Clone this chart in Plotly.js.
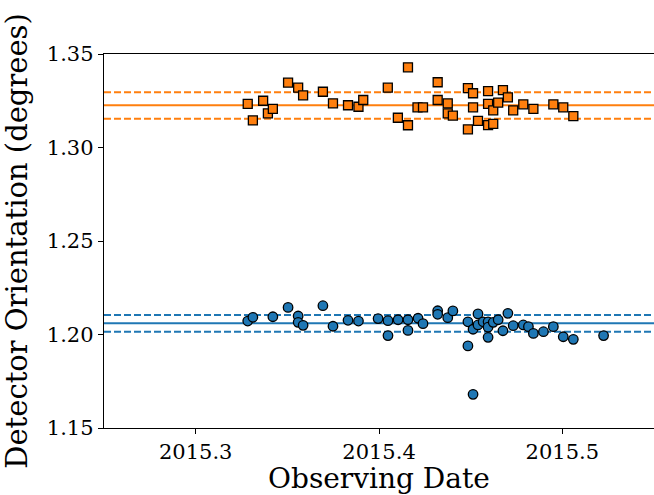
<!DOCTYPE html>
<html>
<head>
<meta charset="utf-8">
<script src="https://cdn.plot.ly/plotly-3.0.1.min.js"></script>
<style>html,body{margin:0;padding:0;background:#fff;}#chart{width:654px;height:495px;}</style>
</head>
<body>
<div id="chart"></div>
<script>
// Orange series (squares)
const orangeDates = [2015.3284, 2015.3312, 2015.3368, 2015.3394, 2015.3421, 2015.3504, 2015.3559, 2015.3586, 2015.3694, 2015.3749, 2015.3831, 2015.3888, 2015.3914, 2015.4048, 2015.4103, 2015.4158, 2015.4158, 2015.4210, 2015.4240, 2015.4320, 2015.4320, 2015.4375, 2015.4375, 2015.4403, 2015.4485, 2015.4513, 2015.4513, 2015.4485, 2015.4540, 2015.4595, 2015.4595, 2015.4595, 2015.4623, 2015.4623, 2015.4650, 2015.4676, 2015.4703, 2015.4732, 2015.4787, 2015.4842, 2015.4951, 2015.5005, 2015.5060];
const orangeValues = [1.3233, 1.3145, 1.3250, 1.3183, 1.3207, 1.3347, 1.3320, 1.3279, 1.3298, 1.3236, 1.3226, 1.3218, 1.3254, 1.3320, 1.3159, 1.3429, 1.3119, 1.3215, 1.3215, 1.3349, 1.3254, 1.3236, 1.3183, 1.3170, 1.3317, 1.3290, 1.3215, 1.3097, 1.3142, 1.3301, 1.3233, 1.3120, 1.3199, 1.3126, 1.3240, 1.3307, 1.3268, 1.3199, 1.3231, 1.3207, 1.3231, 1.3215, 1.3168];
const orangeMean = 1.3226;
const orangeBand = [1.3154, 1.3295];

// Blue series (circles)
const blueDates = [2015.3284, 2015.3312, 2015.3421, 2015.3504, 2015.3559, 2015.3559, 2015.3586, 2015.3694, 2015.3749, 2015.3831, 2015.3888, 2015.3995, 2015.4049, 2015.4049, 2015.4104, 2015.4158, 2015.4158, 2015.4213, 2015.4240, 2015.4320, 2015.4320, 2015.4375, 2015.4403, 2015.4485, 2015.4485, 2015.4513, 2015.4513, 2015.4540, 2015.4540, 2015.4568, 2015.4595, 2015.4595, 2015.4595, 2015.4623, 2015.4650, 2015.4676, 2015.4703, 2015.4732, 2015.4787, 2015.4815, 2015.4842, 2015.4897, 2015.4951, 2015.5005, 2015.5060, 2015.5225];
const blueValues = [1.2072, 1.2092, 1.2095, 1.2145, 1.2099, 1.2065, 1.2049, 1.2154, 1.2044, 1.2076, 1.2072, 1.2085, 1.2074, 1.1994, 1.2079, 1.2079, 1.2022, 1.2087, 1.2058, 1.2127, 1.2108, 1.2090, 1.2126, 1.2068, 1.1939, 1.2028, 1.1680, 1.2110, 1.2051, 1.2068, 1.2068, 1.2039, 1.1985, 1.2065, 1.2079, 1.2020, 1.2113, 1.2047, 1.2051, 1.2042, 1.2006, 1.2015, 1.2042, 1.1988, 1.1974, 1.1994];
const blueMean = 1.2060;
const blueBand = [1.2015, 1.2104];

const xTicks = [2015.3, 2015.4, 2015.5];
const yTicks = [1.15, 1.20, 1.25, 1.30, 1.35];
const xTitle = 'Observing Date';
const yTitle = 'Detector Orientation (degrees)';

const ORANGE = '#ff7f0e', BLUE = '#1f77b4';

function hline(y, color, dash) {
  return {type: 'line', xref: 'paper', x0: 0, x1: 1, yref: 'y', y0: y, y1: y,
          line: {color: color, width: 2, dash: dash}, layer: 'below'};
}

const traces = [
  {x: orangeDates, y: orangeValues, mode: 'markers', type: 'scatter',
   marker: {symbol: 'square', size: 9, color: ORANGE, line: {color: '#000', width: 1.3}}},
  {x: blueDates, y: blueValues, mode: 'markers', type: 'scatter',
   marker: {symbol: 'circle', size: 9.5, color: BLUE, line: {color: '#000', width: 1.3}}}
];

const shapes = [
  hline(orangeMean, ORANGE, 'solid'), hline(orangeBand[0], ORANGE, '7px,3px'), hline(orangeBand[1], ORANGE, '7px,3px'),
  hline(blueMean, BLUE, 'solid'), hline(blueBand[0], BLUE, '7px,3px'), hline(blueBand[1], BLUE, '7px,3px')
];

const font = 'DejaVu Serif, serif';
const layout = {
  width: 654, height: 495,
  margin: {l: 104, r: 0, t: 54, b: 67},
  paper_bgcolor: '#fff', plot_bgcolor: '#fff',
  showlegend: false,
  font: {family: font, color: '#000', size: 21},
  xaxis: {
    range: [2015.25, 2015.55], tickvals: xTicks, ticktext: xTicks.map(v => v.toFixed(1)),
    showgrid: false, zeroline: false, showline: true, linecolor: '#000', linewidth: 1.2,
    mirror: true, ticks: 'outside', ticklen: 5, tickcolor: '#000', tickwidth: 1,
    tickfont: {family: font, size: 21, color: '#000'}
  },
  yaxis: {
    range: [1.15, 1.35], tickvals: yTicks, ticktext: yTicks.map(v => v.toFixed(2)),
    showgrid: false, zeroline: false, showline: true, linecolor: '#000', linewidth: 1.2,
    ticks: 'outside', ticklen: 5, tickcolor: '#000', tickwidth: 1,
    tickfont: {family: font, size: 21, color: '#000'},
    title: {text: yTitle, font: {family: font, size: 29, color: '#000'}, standoff: 10}
  },
  annotations: [
    {text: xTitle, xref: 'paper', yref: 'paper', x: 0.5, y: 0, xanchor: 'center', yanchor: 'top',
     yshift: -32, showarrow: false, font: {family: font, size: 28, color: '#000'}}
  ],
  shapes: shapes
};

Plotly.newPlot('chart', traces, layout, {displayModeBar: false, staticPlot: true});
</script>
</body>
</html>
